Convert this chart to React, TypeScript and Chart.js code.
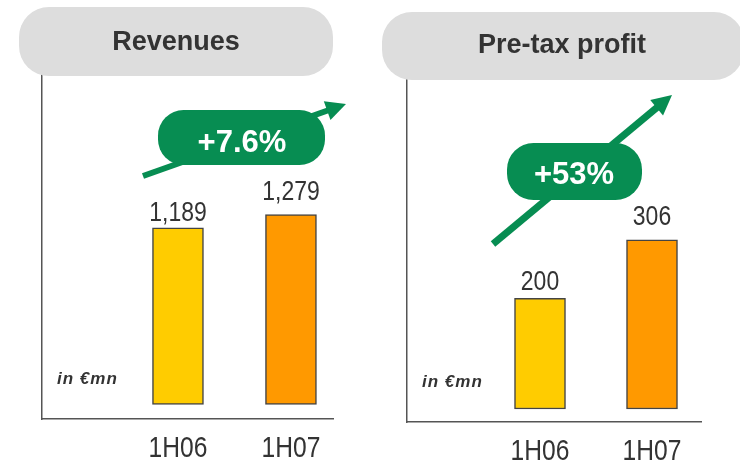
import React, { useEffect, useRef } from 'react';
import { Chart, registerables } from 'chart.js';

Chart.register(...registerables);

// ---------- data ----------
const categories = ['1H06', '1H07'];
const revenues = [1189, 1279];
const pretaxProfit = [200, 306];
const revenueGrowth = '+7.6%';
const profitGrowth = '+53%';
const unitLabel = 'in €mn';
const barColors = ['#FFCC00', '#FF9900'];

// ---------- styles ----------
const SANS = '"Liberation Sans", Arial, Helvetica, sans-serif';
const NARROW_RATIO = 0.82; // narrow face = regular face compressed horizontally
const GREEN = '#078D52';
const GRAY = '#DDDDDD';
const TEXT = '#333333';
const AXIS = '#555555';
const TICK_PAD = 15;
const TICK_SIZE = 30;

type Panel = {
  title: string;
  values: number[];
  growth: string;
  left: number;
  top: number;
  padding: { left: number; top: number; right: number; bottom: number };
  xMin: number;
  xMax: number;
  yMin: number;
  yMax: number;
  titlePill: { x: number; y: number; w: number; h: number; tx: number; ty: number };
  arrow: { x1: number; y1: number; x2: number; y2: number; lw: number; hl: number; hw: number };
  pill: { x: number; y: number; w: number; h: number; tx: number; ty: number };
  unit: { x: number; y: number };
  labelGap: number[];
};

const panels: Panel[] = [
  {
    title: 'Revenues',
    values: revenues,
    growth: revenueGrowth,
    left: 0,
    top: 0,
    padding: { left: 42, top: 75, right: 37, bottom: 3 },
    xMin: -0.2035,
    xMax: 2.372,
    yMin: -99,
    yMax: 2220,
    titlePill: { x: 19, y: 7, w: 314, h: 69, tx: 176, ty: 50 },
    arrow: { x1: 143, y1: 176, x2: 346, y2: 104, lw: 6, hl: 20, hw: 10 },
    pill: { x: 158, y: 110, w: 167, h: 55, tx: 242, ty: 152 },
    unit: { x: 57, y: 384 },
    labelGap: [7, 15],
  },
  {
    title: 'Pre-tax profit',
    values: pretaxProfit,
    growth: profitGrowth,
    left: 370,
    top: 0,
    padding: { left: 37, top: 80, right: 39, bottom: 0 },
    xMin: -0.1875,
    xMax: 2.4375,
    yMin: -23.5,
    yMax: 595,
    titlePill: { x: 12, y: 12, w: 362, h: 68, tx: 192, ty: 53 },
    arrow: { x1: 123, y1: 244, x2: 302, y2: 95, lw: 7, hl: 20, hw: 10 },
    pill: { x: 137, y: 143, w: 135, h: 57, tx: 204, ty: 184 },
    unit: { x: 52, y: 387 },
    labelGap: [8, 15],
  },
];

function roundRect(ctx: CanvasRenderingContext2D, x: number, y: number, w: number, h: number, r: number) {
  ctx.beginPath();
  ctx.moveTo(x + r, y);
  ctx.lineTo(x + w - r, y);
  ctx.arcTo(x + w, y, x + w, y + r, r);
  ctx.lineTo(x + w, y + h - r);
  ctx.arcTo(x + w, y + h, x + w - r, y + h, r);
  ctx.lineTo(x + r, y + h);
  ctx.arcTo(x, y + h, x, y + h - r, r);
  ctx.lineTo(x, y + r);
  ctx.arcTo(x, y, x + r, y, r);
  ctx.closePath();
}

function narrowText(ctx: CanvasRenderingContext2D, s: string, x: number, y: number) {
  const w = ctx.measureText(s).width;
  ctx.fillText(s, x, y, w * NARROW_RATIO);
}

function makeDecor(p: Panel) {
  return {
    id: 'decor',
    afterDraw(chart: any) {
      const ctx: CanvasRenderingContext2D = chart.ctx;
      ctx.save();
      // title pill
      const t = p.titlePill;
      ctx.fillStyle = GRAY;
      roundRect(ctx, t.x, t.y, t.w, t.h, 30);
      ctx.fill();
      ctx.fillStyle = TEXT;
      ctx.font = `bold 27px ${SANS}`;
      ctx.textAlign = 'center';
      ctx.textBaseline = 'alphabetic';
      ctx.fillText(p.title, t.tx, t.ty);

      // value labels from bar elements
      const meta = chart.getDatasetMeta(0);
      ctx.font = `28px ${SANS}`;
      ctx.fillStyle = TEXT;
      meta.data.forEach((bar: any, i: number) => {
        narrowText(ctx, p.values[i].toLocaleString('en-US'), bar.x, bar.y - p.labelGap[i]);
      });

      // category labels at the x scale's tick positions
      const xs = chart.scales.x;
      ctx.font = `${TICK_SIZE}px ${SANS}`;
      ctx.textBaseline = 'middle';
      categories.forEach((c, i) => {
        narrowText(ctx, c, xs.getPixelForValue(i + 1), xs.top + TICK_PAD + TICK_SIZE / 2);
      });
      ctx.textBaseline = 'alphabetic';

      // unit label
      ctx.font = `italic bold 17px ${SANS}`;
      (ctx as any).letterSpacing = '1px';
      ctx.textAlign = 'left';
      ctx.fillText(unitLabel, p.unit.x, p.unit.y);
      (ctx as any).letterSpacing = '0px';

      // growth arrow
      const a = p.arrow;
      const ang = Math.atan2(a.y2 - a.y1, a.x2 - a.x1);
      const bx = a.x2 - Math.cos(ang) * a.hl;
      const by = a.y2 - Math.sin(ang) * a.hl;
      ctx.strokeStyle = GREEN;
      ctx.fillStyle = GREEN;
      ctx.lineWidth = a.lw;
      ctx.lineCap = 'butt';
      ctx.beginPath();
      ctx.moveTo(a.x1, a.y1);
      ctx.lineTo(bx + Math.cos(ang) * 2, by + Math.sin(ang) * 2);
      ctx.stroke();
      ctx.beginPath();
      ctx.moveTo(a.x2, a.y2);
      ctx.lineTo(bx + Math.sin(ang) * a.hw, by - Math.cos(ang) * a.hw);
      ctx.lineTo(bx - Math.sin(ang) * a.hw, by + Math.cos(ang) * a.hw);
      ctx.closePath();
      ctx.fill();

      // growth pill
      const g = p.pill;
      roundRect(ctx, g.x, g.y, g.w, g.h, g.h / 2 - 2);
      ctx.fill();
      ctx.fillStyle = '#FFFFFF';
      ctx.font = `bold 31px ${SANS}`;
      ctx.textAlign = 'center';
      ctx.fillText(p.growth, g.tx, g.ty);
      ctx.restore();
    },
  };
}

function PanelChart({ p }: { p: Panel }) {
  const ref = useRef<HTMLCanvasElement | null>(null);
  useEffect(() => {
    if (!ref.current) return;
    const chart = new Chart(ref.current, {
      type: 'bar',
      data: {
        datasets: [
          {
            data: categories.map((_, i) => ({ x: i + 1, y: p.values[i] })) as any,
            backgroundColor: barColors,
            borderColor: '#444444',
            borderWidth: 1.5,
            borderSkipped: false,
            barThickness: 51,
          },
        ],
      },
      options: {
        responsive: false,
        animation: false,
        events: [],
        layout: { padding: p.padding },
        plugins: { legend: { display: false }, tooltip: { enabled: false } },
        scales: {
          x: {
            type: 'linear',
            min: p.xMin,
            max: p.xMax,
            offset: false,
            grid: { display: false, drawTicks: false },
            border: { display: true, color: AXIS, width: 1.5 },
            afterBuildTicks: (s: any) => {
              s.ticks = categories.map((_, i) => ({ value: i + 1 }));
            },
            afterFit: (s: any) => {
              s.height = TICK_PAD + TICK_SIZE;
            },
            ticks: { display: false },
          },
          y: {
            min: p.yMin,
            max: p.yMax,
            grid: { display: false, drawTicks: false },
            border: { display: true, color: AXIS, width: 1.5 },
            ticks: { display: false },
          },
        },
      } as any,
      plugins: [makeDecor(p)],
    });
    return () => chart.destroy();
  }, [p]);
  return (
    <canvas
      ref={ref}
      width={370}
      height={467}
      style={{ position: 'absolute', left: p.left, top: p.top, width: 370, height: 467 }}
    />
  );
}

export default function App() {
  return (
    <div
      style={{
        position: 'absolute',
        left: 0,
        top: 0,
        width: 740,
        height: 467,
        overflow: 'hidden',
        background: '#FFFFFF',
      }}
    >
      {panels.map((p) => (
        <PanelChart key={p.title} p={p} />
      ))}
    </div>
  );
}
